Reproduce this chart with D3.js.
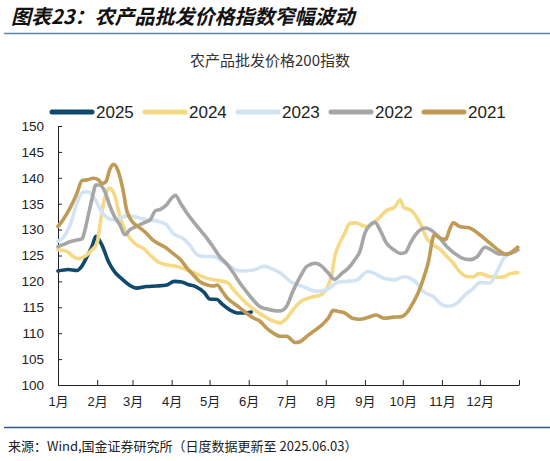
<!DOCTYPE html>
<html>
<head>
<meta charset="utf-8">
<script src="https://cdn.jsdelivr.net/npm/d3@7"></script>
<style>
  body { margin: 0; background: #fff; }
  text { font-family: "Liberation Sans", Arial, "Noto Sans CJK SC", sans-serif; fill: #222; }
</style>
</head>
<body>
<div class="chart-wrapper"></div>
<script>
// days since Jan 1 (x) and index values (y)
const days2025 = [0, 8, 15, 19, 23, 27, 30, 35, 40, 45, 51, 57, 62, 70, 78, 86, 92, 98, 103, 109, 116, 120, 126, 130, 136, 142, 148, 153]
const vals2025 = [122.0, 122.3, 122.1, 123.0, 124.8, 126.8, 128.7, 126.9, 123.8, 121.8, 120.4, 119.2, 118.7, 119.0, 119.1, 119.3, 120.0, 119.9, 119.4, 119.0, 117.8, 116.6, 116.5, 115.6, 114.5, 113.9, 113.9, 114.1]

const days2024 = [0, 7, 12, 16, 21, 27, 31, 33, 36, 39, 41, 45, 49, 53, 57, 62, 68, 73, 79, 86, 94, 102, 110, 118, 126, 134, 139, 147, 155, 163, 170, 176, 181, 186, 192, 200, 208, 213, 217, 219, 223, 227, 231, 236, 242, 246, 250, 255, 260, 266, 271, 274, 279, 284, 288, 292, 297, 303, 308, 313, 318, 324, 329, 333, 338, 342, 347, 353, 358, 364]
const vals2024 = [126.1, 125.8, 124.8, 124.4, 124.8, 126.1, 127.4, 130.5, 135.0, 137.6, 138.0, 136.5, 132.5, 129.9, 128.3, 127.1, 126.3, 125.1, 123.8, 123.2, 122.9, 122.2, 121.4, 120.6, 120.2, 119.8, 118.4, 116.3, 114.6, 113.3, 112.4, 112.0, 112.9, 114.5, 116.1, 116.9, 117.4, 118.7, 121.6, 124.6, 127.4, 129.3, 131.2, 131.3, 130.7, 130.6, 131.4, 132.4, 133.7, 134.2, 135.7, 134.2, 133.8, 132.4, 130.6, 128.3, 127.1, 126.1, 124.8, 123.5, 121.9, 120.9, 120.9, 121.5, 121.3, 120.9, 120.8, 120.9, 121.5, 121.7]

const days2023 = [0, 4, 10, 15, 19, 23, 27, 31, 35, 39, 44, 49, 54, 60, 65, 70, 75, 81, 86, 91, 99, 104, 110, 115, 123, 128, 136, 144, 155, 163, 168, 176, 184, 194, 205, 213, 221, 229, 237, 245, 250, 258, 266, 274, 279, 284, 289, 297, 304, 310, 316, 321, 329, 334, 342, 347, 353, 358, 364]
const vals2023 = [127.8, 128.4, 131.2, 135.1, 137.1, 137.3, 136.7, 135.1, 133.2, 132.3, 131.9, 132.2, 132.6, 132.5, 132.2, 131.9, 131.8, 131.5, 130.9, 129.3, 128.3, 127.1, 125.2, 124.8, 124.8, 124.2, 122.9, 122.0, 122.2, 122.9, 122.6, 121.6, 120.0, 119.0, 118.1, 118.4, 119.8, 120.0, 120.3, 121.9, 121.6, 120.6, 120.3, 120.9, 120.6, 119.7, 118.1, 117.1, 115.5, 115.2, 115.8, 117.1, 118.7, 119.8, 119.7, 121.6, 124.5, 125.4, 126.0]

const days2022 = [0, 4, 10, 15, 19, 21, 24, 27, 30, 33, 37, 41, 45, 49, 53, 57, 62, 68, 73, 77, 81, 86, 90, 93, 97, 102, 107, 112, 118, 123, 128, 134, 139, 144, 149, 155, 160, 165, 170, 176, 181, 186, 192, 197, 204, 209, 214, 219, 225, 230, 235, 239, 243, 247, 251, 255, 260, 266, 271, 275, 279, 284, 291, 297, 301, 308, 314, 320, 326, 332, 338, 343, 349, 355, 362, 364]
const vals2022 = [126.7, 127.1, 127.7, 128.0, 128.2, 129.6, 132.8, 136.0, 138.6, 138.6, 137.4, 134.6, 132.4, 130.9, 129.0, 130.0, 130.6, 131.3, 131.9, 133.6, 133.9, 134.8, 136.1, 136.6, 135.1, 133.2, 131.6, 130.1, 128.3, 126.6, 124.8, 123.3, 121.6, 119.7, 118.1, 116.3, 115.1, 114.7, 114.4, 114.3, 115.2, 118.1, 121.0, 122.9, 123.5, 122.9, 121.6, 120.4, 121.6, 122.6, 124.2, 125.8, 129.3, 130.9, 131.4, 129.9, 127.4, 126.1, 125.4, 125.6, 127.4, 129.3, 130.3, 129.6, 128.7, 126.7, 125.4, 124.5, 124.2, 124.8, 126.6, 126.1, 125.3, 125.3, 125.8, 126.1]

const days2021 = [0, 4, 10, 15, 19, 23, 28, 32, 35, 38, 41, 44, 46, 49, 52, 54, 57, 60, 65, 70, 75, 81, 86, 91, 97, 102, 107, 112, 118, 123, 126, 130, 134, 139, 144, 149, 155, 160, 165, 170, 176, 181, 188, 192, 197, 202, 209, 214, 218, 222, 227, 233, 239, 246, 252, 258, 266, 272, 277, 281, 285, 289, 293, 298, 302, 307, 310, 313, 318, 326, 334, 342, 350, 355, 360, 364]
const vals2021 = [130.6, 131.9, 134.4, 137.0, 139.5, 139.6, 139.9, 139.6, 138.9, 139.3, 141.6, 142.6, 142.2, 140.2, 137.0, 134.1, 132.2, 131.2, 130.3, 129.3, 128.0, 127.1, 126.4, 125.4, 124.2, 122.6, 121.3, 120.0, 119.3, 119.1, 119.3, 118.1, 116.8, 115.8, 114.9, 113.9, 112.9, 112.3, 111.0, 110.1, 109.4, 109.4, 108.2, 108.4, 109.4, 110.3, 111.6, 112.9, 114.4, 114.2, 113.9, 112.9, 112.7, 113.1, 113.5, 112.9, 113.1, 113.2, 114.2, 115.8, 117.7, 120.3, 123.5, 129.0, 128.4, 128.1, 130.0, 131.3, 130.6, 130.3, 129.0, 127.4, 125.8, 125.2, 125.8, 126.6]

const seriesNames = ['2025', '2024', '2023', '2022', '2021']
const seriesColors = ['#0f4a6e', '#f6d985', '#d2e4f3', '#a6a6a6', '#bf9b56']
const monthLabels = ['1月', '2月', '3月', '4月', '5月', '6月', '7月', '8月', '9月', '10月', '11月', '12月']
const yTicks = [100, 105, 110, 115, 120, 125, 130, 135, 140, 145, 150]

const width = 550
const height = 461
const margin = {top: 126, right: 31, bottom: 76, left: 58}

const base = new Date(2021, 0, 1)
const toDate = d => d3.timeDay.offset(base, d)

const series = [
	d3.zip(days2025, vals2025),
	d3.zip(days2024, vals2024),
	d3.zip(days2023, vals2023),
	d3.zip(days2022, vals2022),
	d3.zip(days2021, vals2021)
]

let x = d3.scaleTime()
.domain([base, new Date(2022, 0, 1)])
.range([margin.left, width - margin.right])

let y = d3.scaleLinear()
.domain([100, 150])
.range([height - margin.bottom, margin.top])

let line = d3.line()
.x(d => x(toDate(d[0])))
.y(d => y(d[1]))
.curve(d3.curveMonotoneX)

let svg = d3.select('.chart-wrapper')
.append('svg')
.attr('width', width)
.attr('height', height)

// header
svg.append('text')
.attr('x', 11)
.attr('y', 24)
.style('font-family', '"Noto Sans CJK SC", sans-serif')
.style('font-size', '20px')
.style('font-weight', 'bold')
.style('font-style', 'italic')
.style('fill', '#111')
.text('图表23：农产品批发价格指数窄幅波动')

svg.append('line')
.attr('x1', 4).attr('x2', width)
.attr('y1', 33.5).attr('y2', 33.5)
.style('stroke', '#5b86ab')
.style('stroke-width', 1.5)

svg.append('text')
.attr('x', 270)
.attr('y', 66)
.attr('text-anchor', 'middle')
.style('font-family', '"Noto Sans CJK SC", sans-serif')
.style('font-size', '15px')
.style('fill', '#333')
.text('农产品批发价格200指数')

// legend
const legend = svg.append('g')
.selectAll('g')
.data(seriesNames)
.enter()
.append('g')
.attr('transform', (d, i) => 'translate(' + (50 + i * 93) + ',112)')

legend.append('line')
.attr('x1', 2).attr('x2', 42)
.style('stroke', (d, i) => seriesColors[i])
.style('stroke-width', 5)
.style('stroke-linecap', 'round')

legend.append('text')
.attr('x', 46)
.attr('dy', '0.36em')
.style('font-size', '17px')
.text(d => d)

// axes
const yaxis = svg.append('g')
.attr('class', 'y axis')
.attr('transform', 'translate(' + margin.left + ',0)')
.call(d3.axisLeft(y)
	.tickValues(yTicks)
	.tickSizeInner(-4)
	.tickSizeOuter(0)
	.tickPadding(14)
)
yaxis.selectAll('text').style('font-size', '13.5px')

const monthTicks = d3.timeMonth.range(base, new Date(2022, 0, 2))

const xaxis = svg.append('g')
.attr('class', 'x axis')
.attr('transform', 'translate(0,' + (height - margin.bottom) + ')')
.call(d3.axisBottom(x)
	.tickValues(monthTicks)
	.tickFormat((d, i) => monthLabels[i] || '')
	.tickSizeInner(-5)
	.tickSizeOuter(0)
	.tickPadding(12)
)
xaxis.selectAll('text').style('font-size', '13px')

svg.selectAll('.axis path, .axis line').style('stroke', '#222')

// series, 2021 drawn last (on top)
svg.append('g')
.selectAll('path')
.data(series)
.enter()
.append('path')
.attr('d', line)
.style('fill', 'none')
.style('stroke', (d, i) => seriesColors[i])
.style('stroke-width', 3.6)
.style('stroke-linejoin', 'round')
.style('stroke-linecap', 'round')

// footer
svg.append('line')
.attr('x1', 4).attr('x2', width)
.attr('y1', 427.5).attr('y2', 427.5)
.style('stroke', '#2d5c87')
.style('stroke-width', 1.5)

svg.append('text')
.attr('x', 8)
.attr('y', 451)
.style('font-family', '"Noto Sans CJK SC", sans-serif')
.style('font-size', '13px')
.style('fill', '#222')
.text('来源：Wind,国金证券研究所（日度数据更新至 2025.06.03）')
</script>
</body>
</html>
